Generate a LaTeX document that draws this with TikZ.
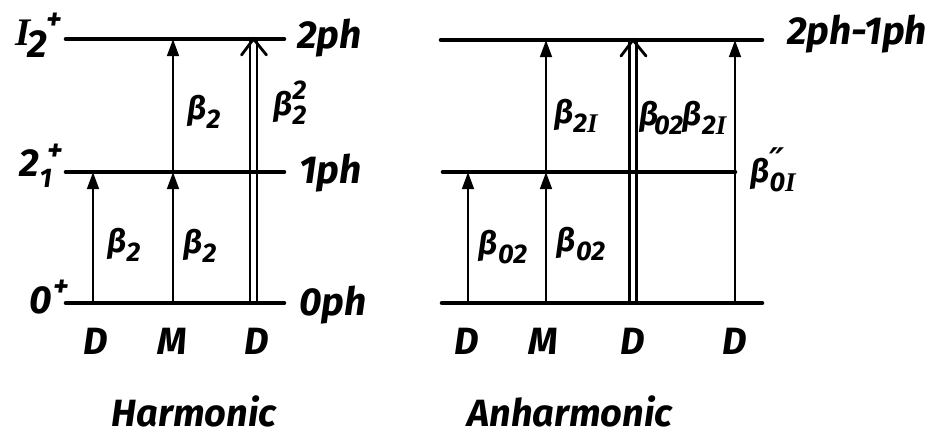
\documentclass[tikz,border=0pt]{standalone}
\usepackage{fontspec}
\setmainfont{Fira Sans}
\newfontfamily\serfam{Liberation Serif}
\newfontfamily\djv{DejaVu Sans}
\usetikzlibrary{arrows.meta,calc}
\newcommand\RI{{\serfam\bfseries\itshape I}}
\newcommand\lo[1]{\raisebox{-0.28em}{\fontsize{27}{27}\selectfont #1}}
\newcommand\hi[1]{\raisebox{0.5em}{\fontsize{27}{27}\selectfont #1}}
\newcommand\llo[1]{\raisebox{-0.3em}{#1}}
\newcommand\lhi[1]{\raisebox{0.42em}{\fontsize{30}{30}\selectfont #1}}
\tikzset{
  x=1pt, y=-1pt,
  levelline/.style={line width=4.6pt, line cap=round},
  trans/.style={line width=2.9pt, -{Triangle[length=17pt,width=11.5pt]}},
  dtrans/.style={double, double distance=4.2pt, line width=2.7pt},
  chev/.style={line width=2.8pt, line cap=round, line join=miter},
  lvl/.style={font=\fontsize{39}{42}\selectfont\bfseries\itshape, inner sep=0pt},
  blab/.style={font=\fontsize{32}{34}\selectfont\bfseries\itshape, inner sep=0pt},
  ttl/.style={font=\fontsize{38}{42}\selectfont\bfseries\itshape, inner sep=0pt},
}
\begin{document}
\begin{tikzpicture}
\useasboundingbox (0,0) rectangle (935,439);
% ---------- Harmonic ----------
\coordinate (h2w) at (66,39);  \coordinate (h2e) at (284,39);
\coordinate (h1w) at (66,172); \coordinate (h1e) at (284,172);
\coordinate (h0w) at (66,303); \coordinate (h0e) at (284,303);
\coordinate (ha0) at (93,303);  \coordinate (ha1) at (93,172);
\coordinate (hb0) at (173,303); \coordinate (hb1) at (173,172); \coordinate (hb2) at (173,39);
\coordinate (hc0) at (253.5,303); \coordinate (hc2) at (253.5,39);
\draw[trans] (ha0) -- (ha1);
\draw[trans] (hb0) -- (hb1);
\draw[trans] (hb1) -- (hb2);
\draw[dtrans] (hc0) -- (hc2);
\draw[chev] ($(hc2)+(-12,16)$) -- (hc2) -- ($(hc2)+(13,16)$);
\draw[levelline] (h2w) -- (h2e);
\draw[levelline] (h1w) -- (h1e);
\draw[levelline] (h0w) -- (h0e);
\node[lvl, anchor=east] (lI) at (62,35) {\RI\kern-0.08em\llo{2}\kern-0.03em\lhi{+}};
\node[lvl, anchor=east] (l21) at (63,166) {2\kern0.02em\lo{1}\kern-0.12em\lhi{+}};
\node[lvl, anchor=east] (l0) at (69,297) {0\kern0.04em\lhi{+}};
\node[lvl, anchor=base west] (r2) at (297,48) {2ph};
\node[lvl, anchor=base west] (r1) at (299,183) {1ph};
\node[lvl, anchor=base west] (r0) at (299,315) {0ph};
\node[blab] (hb2l) at (204,112) {β\lo{2}};
\node[blab] (hcl) at (290,103) {β\rlap{\hi{2}}\lo{2}};
\node[blab] (hal) at (124,245) {β\lo{2}};
\node[blab] (hb1l) at (200,246) {β\lo{2}};
\node[ttl] (hD1) at (96,341) {D};
\node[ttl] (hM) at (172,341) {M};
\node[ttl] (hD2) at (257,341) {D};
\node[ttl, anchor=base] (htitle) at (194,426) {Harmonic};
% ---------- Anharmonic ----------
\coordinate (a2w) at (441,40);  \coordinate (a2e) at (762,40);
\coordinate (a1w) at (443,172); \coordinate (a1e) at (735,172);
\coordinate (a0w) at (442,303); \coordinate (a0e) at (762,303);
\coordinate (aa0) at (468,303); \coordinate (aa1) at (468,172);
\coordinate (ab0) at (546,303); \coordinate (ab1) at (546,172); \coordinate (ab2) at (546,40);
\coordinate (ac0) at (633,303); \coordinate (ac2) at (633,40);
\coordinate (ad0) at (735,303); \coordinate (ad2) at (735,40);
\draw[trans] (aa0) -- (aa1);
\draw[trans] (ab0) -- (ab1);
\draw[trans] (ab1) -- (ab2);
\draw[dtrans] (ac0) -- (ac2);
\draw[chev] ($(ac2)+(-12,16)$) -- (ac2) -- ($(ac2)+(13,16)$);
\draw[trans] (ad0) -- (ad2);
\draw[levelline] (a2w) -- (a2e);
\draw[levelline] (a1w) -- (a1e);
\draw[levelline] (a0w) -- (a0e);
\node[lvl, anchor=west] (r21) at (787,34) {2ph-1ph};
\node[blab] (abl2) at (576,116) {β\lo{2\RI}};
\node[blab] (aal) at (503,247) {β\lo{02}};
\node[blab] (abl1) at (581,244) {β\lo{02}};
\node[blab] (acl) at (683,118) {β\kern-0.15em\lo{02}β\lo{2\RI}};
\node[blab] (adl) at (773,170) {β\rlap{\raisebox{0.3em}{\fontsize{34}{34}\djv\bfseries ″}}\lo{0\RI}};
\node[ttl] (aD1) at (467,341) {D};
\node[ttl] (aM) at (543,341) {M};
\node[ttl] (aD2) at (633,341) {D};
\node[ttl] (aD3) at (735,341) {D};
\node[ttl, anchor=base] (atitle) at (570,426) {Anharmonic};
\end{tikzpicture}
\end{document}
